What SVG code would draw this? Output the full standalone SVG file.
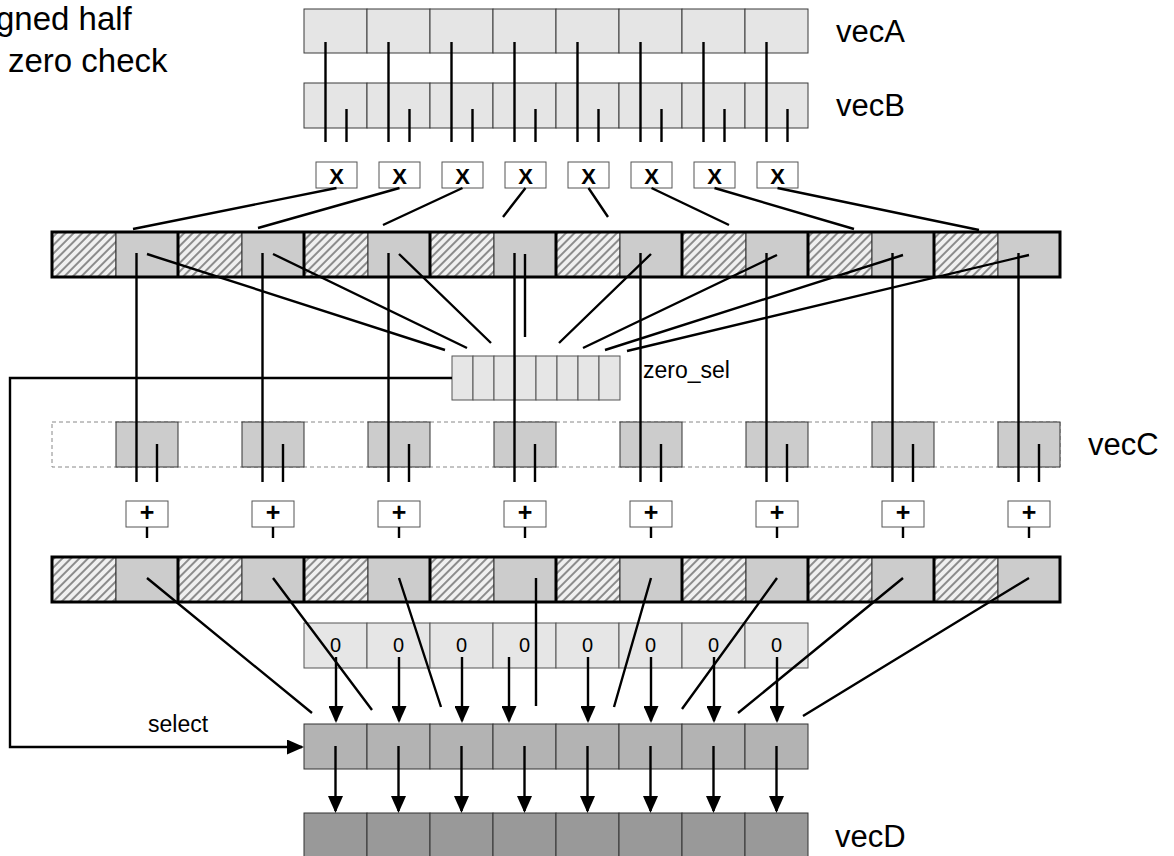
<svg xmlns="http://www.w3.org/2000/svg" width="1174" height="856" viewBox="0 0 1174 856">
<style>
text{font-family:"Liberation Sans",Arial,sans-serif;fill:#000}
.lbl{font-size:31px}
.big{font-size:33px}
.mid{font-size:23px}
.op{font-size:22px;font-weight:bold;text-anchor:middle}
.pl{font-size:25px;font-weight:bold;text-anchor:middle}
.zero{font-size:20px;text-anchor:middle}
.va{fill:#e5e5e5;stroke:#3a3a3a;stroke-width:1}
.box{fill:#fff;stroke:#555;stroke-width:1}
.hat{fill:url(#hatch);stroke:#333;stroke-width:1}
.gry{fill:#cccccc;stroke:#333;stroke-width:1}
.zs{fill:#e6e6e6;stroke:#555;stroke-width:1}
.sel{fill:#b3b3b3;stroke:#333;stroke-width:1}
.vd{fill:#999999;stroke:#333;stroke-width:1}
.thick{fill:none;stroke:#000;stroke-width:3}
.dash{fill:none;stroke:#888;stroke-width:1;stroke-dasharray:4 3}
.ln{fill:none;stroke:#000;stroke-width:2.4}
.ar{fill:none;stroke:#000;stroke-width:2.4;marker-end:url(#ah)}
</style>
<defs>
<pattern id="hatch" patternUnits="userSpaceOnUse" width="6" height="6" patternTransform="rotate(45)">
<rect width="6" height="6" fill="#f0f0f0"/>
<rect width="2" height="6" fill="#8c8c8c"/>
</pattern>
<marker id="ah" markerUnits="userSpaceOnUse" markerWidth="17" markerHeight="15" viewBox="0 0 17 15" refX="15" refY="7.5" orient="auto">
<path d="M0,0 L17,7.5 L0,15 z" fill="#000"/>
</marker>
</defs>
<rect width="1174" height="856" fill="#fff"/>

<g id="vecA">
<rect class="va" x="304" y="9" width="63" height="44"/><rect class="va" x="367" y="9" width="63" height="44"/><rect class="va" x="430" y="9" width="63" height="44"/><rect class="va" x="493" y="9" width="63" height="44"/><rect class="va" x="556" y="9" width="63" height="44"/><rect class="va" x="619" y="9" width="63" height="44"/><rect class="va" x="682" y="9" width="63" height="44"/><rect class="va" x="745" y="9" width="63" height="44"/>
</g>
<g id="vecB">
<rect class="va" x="304" y="83" width="63" height="45"/><rect class="va" x="367" y="83" width="63" height="45"/><rect class="va" x="430" y="83" width="63" height="45"/><rect class="va" x="493" y="83" width="63" height="45"/><rect class="va" x="556" y="83" width="63" height="45"/><rect class="va" x="619" y="83" width="63" height="45"/><rect class="va" x="682" y="83" width="63" height="45"/><rect class="va" x="745" y="83" width="63" height="45"/>
</g>

<g id="mul-1"><rect class="box" x="316" y="162" width="41" height="26"/><text class="op" x="336.5" y="183.5">X</text></g>
<g id="mul-2"><rect class="box" x="379" y="162" width="41" height="26"/><text class="op" x="399.5" y="183.5">X</text></g>
<g id="mul-3"><rect class="box" x="442" y="162" width="41" height="26"/><text class="op" x="462.5" y="183.5">X</text></g>
<g id="mul-4"><rect class="box" x="505" y="162" width="41" height="26"/><text class="op" x="525.5" y="183.5">X</text></g>
<g id="mul-5"><rect class="box" x="568" y="162" width="41" height="26"/><text class="op" x="588.5" y="183.5">X</text></g>
<g id="mul-6"><rect class="box" x="631" y="162" width="41" height="26"/><text class="op" x="651.5" y="183.5">X</text></g>
<g id="mul-7"><rect class="box" x="694" y="162" width="41" height="26"/><text class="op" x="714.5" y="183.5">X</text></g>
<g id="mul-8"><rect class="box" x="757" y="162" width="41" height="26"/><text class="op" x="777.5" y="183.5">X</text></g>

<g id="products">
<rect class="hat" x="52" y="232" width="64" height="45"/><rect class="gry" x="116" y="232" width="62" height="45"/>
<rect class="hat" x="178" y="232" width="64" height="45"/><rect class="gry" x="242" y="232" width="62" height="45"/>
<rect class="hat" x="304" y="232" width="64" height="45"/><rect class="gry" x="368" y="232" width="62" height="45"/>
<rect class="hat" x="430" y="232" width="64" height="45"/><rect class="gry" x="494" y="232" width="62" height="45"/>
<rect class="hat" x="556" y="232" width="64" height="45"/><rect class="gry" x="620" y="232" width="62" height="45"/>
<rect class="hat" x="682" y="232" width="64" height="45"/><rect class="gry" x="746" y="232" width="62" height="45"/>
<rect class="hat" x="808" y="232" width="64" height="45"/><rect class="gry" x="872" y="232" width="62" height="45"/>
<rect class="hat" x="934" y="232" width="64" height="45"/><rect class="gry" x="998" y="232" width="62" height="45"/>
<rect class="thick" x="52" y="232" width="1008" height="45"/>
<path class="thick" d="M178,232V277M304,232V277M430,232V277M556,232V277M682,232V277M808,232V277M934,232V277"/>
</g>

<g id="zero_sel">
<rect class="zs" x="452" y="356" width="21" height="44"/><rect class="zs" x="473" y="356" width="21" height="44"/><rect class="zs" x="494" y="356" width="21" height="44"/><rect class="zs" x="515" y="356" width="21" height="44"/><rect class="zs" x="536" y="356" width="21" height="44"/><rect class="zs" x="557" y="356" width="21" height="44"/><rect class="zs" x="578" y="356" width="21" height="44"/><rect class="zs" x="599" y="356" width="21" height="44"/>
</g>

<g id="vecC">
<rect class="dash" x="52" y="422" width="1008" height="45"/>
<rect class="gry" x="116" y="422" width="62" height="45"/><rect class="gry" x="242" y="422" width="62" height="45"/><rect class="gry" x="368" y="422" width="62" height="45"/><rect class="gry" x="494" y="422" width="62" height="45"/><rect class="gry" x="620" y="422" width="62" height="45"/><rect class="gry" x="746" y="422" width="62" height="45"/><rect class="gry" x="872" y="422" width="62" height="45"/><rect class="gry" x="998" y="422" width="62" height="45"/>
</g>

<g id="add-1"><rect class="box" x="126" y="501" width="42" height="26"/><text class="pl" x="147" y="521">+</text></g>
<g id="add-2"><rect class="box" x="252" y="501" width="42" height="26"/><text class="pl" x="273" y="521">+</text></g>
<g id="add-3"><rect class="box" x="378" y="501" width="42" height="26"/><text class="pl" x="399" y="521">+</text></g>
<g id="add-4"><rect class="box" x="504" y="501" width="42" height="26"/><text class="pl" x="525" y="521">+</text></g>
<g id="add-5"><rect class="box" x="630" y="501" width="42" height="26"/><text class="pl" x="651" y="521">+</text></g>
<g id="add-6"><rect class="box" x="756" y="501" width="42" height="26"/><text class="pl" x="777" y="521">+</text></g>
<g id="add-7"><rect class="box" x="882" y="501" width="42" height="26"/><text class="pl" x="903" y="521">+</text></g>
<g id="add-8"><rect class="box" x="1008" y="501" width="42" height="26"/><text class="pl" x="1029" y="521">+</text></g>

<g id="sums">
<rect class="hat" x="52" y="557" width="64" height="45"/><rect class="gry" x="116" y="557" width="62" height="45"/>
<rect class="hat" x="178" y="557" width="64" height="45"/><rect class="gry" x="242" y="557" width="62" height="45"/>
<rect class="hat" x="304" y="557" width="64" height="45"/><rect class="gry" x="368" y="557" width="62" height="45"/>
<rect class="hat" x="430" y="557" width="64" height="45"/><rect class="gry" x="494" y="557" width="62" height="45"/>
<rect class="hat" x="556" y="557" width="64" height="45"/><rect class="gry" x="620" y="557" width="62" height="45"/>
<rect class="hat" x="682" y="557" width="64" height="45"/><rect class="gry" x="746" y="557" width="62" height="45"/>
<rect class="hat" x="808" y="557" width="64" height="45"/><rect class="gry" x="872" y="557" width="62" height="45"/>
<rect class="hat" x="934" y="557" width="64" height="45"/><rect class="gry" x="998" y="557" width="62" height="45"/>
<rect class="thick" x="52" y="557" width="1008" height="45"/>
<path class="thick" d="M178,557V602M304,557V602M430,557V602M556,557V602M682,557V602M808,557V602M934,557V602"/>
</g>

<g id="zeros">
<rect class="zs" x="304" y="623" width="63" height="45"/><rect class="zs" x="367" y="623" width="63" height="45"/><rect class="zs" x="430" y="623" width="63" height="45"/><rect class="zs" x="493" y="623" width="63" height="45"/><rect class="zs" x="556" y="623" width="63" height="45"/><rect class="zs" x="619" y="623" width="63" height="45"/><rect class="zs" x="682" y="623" width="63" height="45"/><rect class="zs" x="745" y="623" width="63" height="45"/>
</g>

<g id="select_row">
<rect class="sel" x="304" y="724" width="63" height="45"/><rect class="sel" x="367" y="724" width="63" height="45"/><rect class="sel" x="430" y="724" width="63" height="45"/><rect class="sel" x="493" y="724" width="63" height="45"/><rect class="sel" x="556" y="724" width="63" height="45"/><rect class="sel" x="619" y="724" width="63" height="45"/><rect class="sel" x="682" y="724" width="63" height="45"/><rect class="sel" x="745" y="724" width="63" height="45"/>
</g>

<g id="vecD">
<rect class="vd" x="304" y="813" width="63" height="45"/><rect class="vd" x="367" y="813" width="63" height="45"/><rect class="vd" x="430" y="813" width="63" height="45"/><rect class="vd" x="493" y="813" width="63" height="45"/><rect class="vd" x="556" y="813" width="63" height="45"/><rect class="vd" x="619" y="813" width="63" height="45"/><rect class="vd" x="682" y="813" width="63" height="45"/><rect class="vd" x="745" y="813" width="63" height="45"/>
</g>

<g id="connectors">
<path class="ln" d="M325.5,42V142M388.5,42V142M451.5,42V142M514.5,42V142M577.5,42V142M640.5,42V142M703.5,42V142M766.5,42V142"/>
<path class="ln" d="M346.5,109V142M409.5,109V142M472.5,109V142M535.5,109V142M598.5,109V142M661.5,109V142M724.5,109V142M787.5,109V142"/>
<path class="ln" d="M336.5,188L133,229M399.5,188L258,228M462.5,188L383,225M525.5,188L503,217M588.5,188L608,217M651.5,188L729,225M714.5,188L854,229M777.5,188L979,230"/>
<path class="ln" d="M147,254L445,350M273,254L467,348M399,254L491,343M525,254V337M651,254L559,343M777,255L583,348M903,255L605,350M1029,255L627,351"/>
<path class="ln" d="M136.5,253V482M262.5,253V482M388.5,253V482M514.5,253V482M640.5,253V482M766.5,253V482M892.5,253V482M1018.5,253V482"/>
<path class="ln" d="M157,444V482M283,444V482M409,444V482M535,444V482M661,444V482M787,444V482M913,444V482M1039,444V482"/>
<path class="ln" d="M147,527V538M273,527V538M399,527V538M525,527V538M651,527V538M777,527V538M903,527V538M1029,527V538"/>
<path class="ln" d="M147,578L312,713M273,578L372,710M399,578L441,707M536,578V706M651,578L614,707M777,578L682,709M903,578L738,713M1029,578L803,716"/>
<path class="ar" d="M452,378H10V747H302"/>
<path class="ar" d="M336,657V721"/><path class="ar" d="M399,657V721"/><path class="ar" d="M462,657V721"/><path class="ar" d="M509,657V721"/><path class="ar" d="M588,657V721"/><path class="ar" d="M651,657V721"/><path class="ar" d="M714,657V721"/><path class="ar" d="M777,657V721"/>
<path class="ar" d="M335.5,746V811"/><path class="ar" d="M398.5,746V811"/><path class="ar" d="M461.5,746V811"/><path class="ar" d="M524.5,746V811"/><path class="ar" d="M587.5,746V811"/><path class="ar" d="M650.5,746V811"/><path class="ar" d="M713.5,746V811"/><path class="ar" d="M776.5,746V811"/>
</g>

<g id="zero_labels">
<text class="zero" x="335.5" y="652">0</text><text class="zero" x="398.5" y="652">0</text><text class="zero" x="461.5" y="652">0</text><text class="zero" x="524.5" y="652">0</text><text class="zero" x="587.5" y="652">0</text><text class="zero" x="650.5" y="652">0</text><text class="zero" x="713.5" y="652">0</text><text class="zero" x="776.5" y="652">0</text>
</g>

<g id="labels">
<text class="big" x="-4" y="30">gned half</text>
<text class="big" x="8" y="72">zero check</text>
<text class="lbl" x="836" y="42">vecA</text>
<text class="lbl" x="836" y="116">vecB</text>
<text class="lbl" x="1088" y="455">vecC</text>
<text class="lbl" x="835" y="847">vecD</text>
<text class="mid" x="643" y="378">zero_sel</text>
<text class="mid" x="148" y="732">select</text>
</g>
</svg>
